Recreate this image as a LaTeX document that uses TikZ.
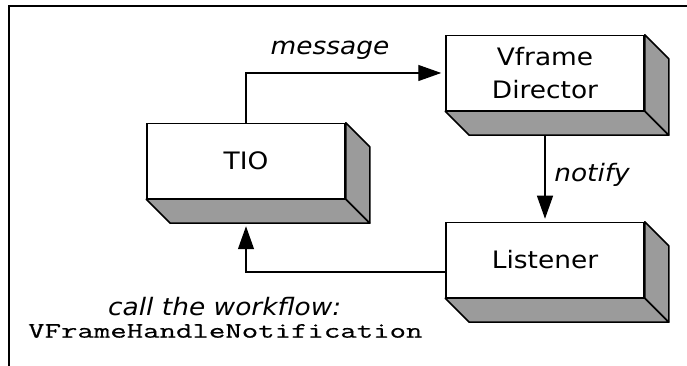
\documentclass[tikz,border=0pt]{standalone}
\usepackage{fontspec}
\setmainfont{DejaVu Sans}[FakeStretch=1.1]
\newfontfamily\codefont{Latin Modern Mono}[FakeStretch=1.45,FakeBold=0.6]
\usetikzlibrary{arrows.meta}
\definecolor{facegray}{RGB}{155,155,155}
\tikzset{
  frontface/.style={draw, fill=white, line width=1.5pt, minimum width=198pt,
    minimum height=75pt, inner sep=0pt, align=center,
    font=\fontsize{24}{33}\selectfont},
  sideface/.style={draw, fill=facegray, line width=1.5pt, line join=round},
  flow/.style={line width=1.3pt, -{Triangle[length=23pt,width=16pt]}},
  flowlabel/.style={font=\fontsize{24}{28}\selectfont\itshape},
  framerule/.style={line width=1.4pt},
}
% gray right and bottom faces that give a box its depth
\newcommand\boxdepth[1]{%
  \path[sideface] (#1.north east) -- ([shift={(24,-24)}]#1.north east)
    -- ([shift={(24,-24)}]#1.south east) -- (#1.south east) -- cycle;
  \path[sideface] (#1.south west) -- ([shift={(24,-24)}]#1.south west)
    -- ([shift={(24,-24)}]#1.south east) -- (#1.south east) -- cycle;}
\begin{document}
\begin{tikzpicture}[x=1pt,y=1pt]
  \useasboundingbox (0,0) rectangle (687,366);
  % open frame along the top and left
  \draw[framerule] (9,0) -- (9,360) -- (687,360);

  \node[frontface] (tio) at (246,205) {TIO};
  \node[frontface] (vfd) at (545,293) {Vframe\\Director};
  \node[frontface] (lis) at (545,106) {Listener};
  \boxdepth{tio}
  \boxdepth{vfd}
  \boxdepth{lis}

  % points on the back edges of the bottom faces
  \coordinate (vfd-under) at ([yshift=-24pt]vfd.south);
  \coordinate (tio-under) at ([yshift=-24pt]tio.south);

  \draw[flow, shorten >=4pt] (tio.north) |- (vfd.west);
  \draw[flow, shorten >=3pt] (vfd-under) -- (lis.north);
  \draw[flow, shorten >=3pt] ([yshift=-12pt]lis.west) -| (tio-under);

  \node[flowlabel] (msg) at (330,316) {message};
  \node[flowlabel] (ntf) at (592,191) {notify};
  \node[flowlabel, anchor=west, inner sep=0pt] (call) at (108,59) {call the workflow:};
  \node[anchor=west, inner sep=0pt, font=\fontsize{22}{24}\codefont] (wf) at (28,35)
    {VFrameHandleNotification};
\end{tikzpicture}
\end{document}
